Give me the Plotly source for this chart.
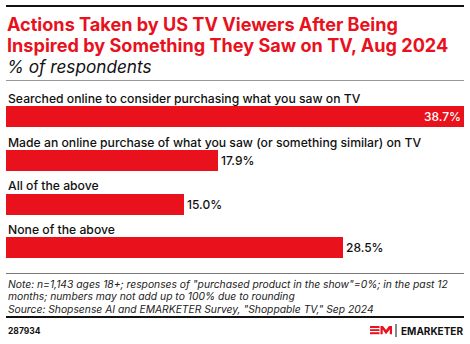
import plotly.graph_objects as go

W, H = 470, 344

categories = [
    "Searched online to consider purchasing what you saw on TV",
    "Made an online purchase of what you saw (or something similar) on TV",
    "All of the above",
    "None of the above",
]
values = [38.7, 17.9, 15.0, 28.5]
value_labels = ["38.7%", "17.9%", "15.0%", "28.5%"]

title_lines = ["Actions Taken by US TV Viewers After Being",
               "Inspired by Something They Saw on TV, Aug 2024"]
subtitle = "% of respondents"
note_lines = [
    'Note: n=1,143 ages 18+; responses of "purchased product in the show"=0%; in the past 12',
    "months; numbers may not add up to 100% due to rounding",
    'Source: Shopsense AI and EMARKETER Survey, "Shoppable TV," Sep 2024',
]
chart_id = "287934"

RED = "#E8111C"
FONT = "Inter"


def px(x):
    return x / W


def py(y):
    return 1 - y / H


positions = list(range(len(values)))

fig = go.Figure()
fig.add_trace(go.Bar(
    x=values,
    y=positions,
    orientation="h",
    marker=dict(color=RED, line=dict(width=0)),
    width=0.48,
    text=value_labels,
    textposition=["inside", "outside", "outside", "outside"],
    insidetextanchor="end",
    textfont=dict(family=FONT, size=12, weight=500),
    insidetextfont=dict(family=FONT, size=12, color="white", weight=500),
    outsidetextfont=dict(family=FONT, size=12, color="#111111", weight=500),
    cliponaxis=False,
    hoverinfo="skip",
))

top_px = 117.3 - 21.85
bot_px = top_px + 4 * 43.7

fig.update_layout(
    width=W, height=H,
    margin=dict(l=0, r=0, t=0, b=0),
    paper_bgcolor="white", plot_bgcolor="white",
    showlegend=False,
    bargap=0,
    xaxis=dict(domain=[px(6), px(464)], range=[0, 38.7], visible=False, fixedrange=True),
    yaxis=dict(domain=[py(bot_px), py(top_px)], range=[3.5, -0.5], visible=False, fixedrange=True),
    font=dict(family=FONT),
    uniformtext=dict(mode=False),
)

annotations = []
for i, c in enumerate(categories):
    annotations.append(dict(
        x=px(6), xref="paper", y=i, yref="y", yshift=19,
        text=c, showarrow=False, xanchor="left", yanchor="middle",
        font=dict(family=FONT, size=12.2, color="#111111", weight=500),
    ))
for j, t in enumerate(title_lines):
    annotations.append(dict(
        x=px(5), xref="paper", y=py(23.5 + j * 21.8), yref="paper",
        text="<b>" + t + "</b>", showarrow=False, xanchor="left", yanchor="middle",
        font=dict(family=FONT, size=18.1, color=RED),
    ))
annotations.append(dict(
    x=px(5), xref="paper", y=py(66.5), yref="paper",
    text="<i>" + subtitle + "</i>", showarrow=False, xanchor="left", yanchor="middle",
    font=dict(family=FONT, size=17.2, color="#111111"),
))
for j, t in enumerate(note_lines):
    annotations.append(dict(
        x=px(5.5), xref="paper", y=py(283.8 + j * 12.6), yref="paper",
        text="<i>" + t + "</i>", showarrow=False, xanchor="left", yanchor="middle",
        font=dict(family=FONT, size=10.3, color="#222222"),
    ))
annotations.append(dict(
    x=px(5.5), xref="paper", y=py(331), yref="paper",
    text="<b>" + chart_id + "</b>", showarrow=False, xanchor="left", yanchor="middle",
    font=dict(family=FONT, size=8.5, color="#111111"),
))
annotations.append(dict(
    x=px(465), xref="paper", y=py(330.5), yref="paper",
    text="<b>EMARKETER</b>", showarrow=False, xanchor="right", yanchor="middle",
    font=dict(family=FONT, size=10, color="#111111"),
))
fig.update_layout(annotations=annotations)

shapes = [
    dict(type="line", xref="paper", yref="paper", x0=px(6), x1=px(464), y0=py(6), y1=py(6),
         line=dict(color="#111111", width=2.2)),
    dict(type="line", xref="paper", yref="paper", x0=px(6), x1=px(464), y0=py(80.5), y1=py(80.5),
         line=dict(color="#999999", width=1)),
    dict(type="line", xref="paper", yref="paper", x0=px(6), x1=px(464), y0=py(273.5), y1=py(273.5),
         line=dict(color="#555555", width=0.8)),
    dict(type="line", xref="paper", yref="paper", x0=px(6), x1=px(464), y0=py(317), y1=py(317),
         line=dict(color="#111111", width=2)),
    dict(type="line", xref="paper", yref="paper", x0=px(396), x1=px(396), y0=py(324), y1=py(337),
         line=dict(color="#111111", width=1)),
]


def path(points):
    s = ""
    for k, (x, y) in enumerate(points):
        s += ("M" if k == 0 else "L") + f"{px(x):.5f},{py(y):.5f}"
    return s + "Z"


for (y0, y1) in [(326, 328), (329.2, 331), (332.2, 334.2)]:
    shapes.append(dict(type="rect", xref="paper", yref="paper", x0=px(370), x1=px(379.5),
                       y0=py(y1), y1=py(y0), line=dict(width=0), fillcolor=RED))
shapes.append(dict(type="path", xref="paper", yref="paper", line=dict(width=0), fillcolor=RED,
                   path=path([(380.5, 334.2), (380.5, 326), (383, 326), (386, 330), (389, 326),
                              (392, 326), (392, 334.2), (389.8, 334.2), (389.8, 329.5), (386, 334.2),
                              (382.7, 329.5), (382.7, 334.2)])))
fig.update_layout(shapes=shapes)

fig.write_html("out.html")
